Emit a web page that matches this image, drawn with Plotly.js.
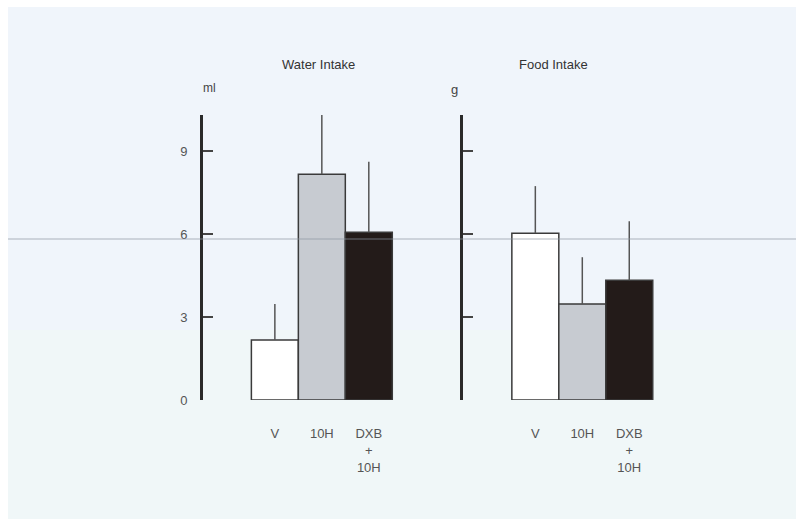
<!DOCTYPE html>
<html>
<head>
<meta charset="utf-8">
<script src="https://cdn.plot.ly/plotly-3.0.1.min.js"></script>
<style>html,body{margin:0;padding:0;background:#fff;}#chart{width:796px;height:519px;}</style>
</head>
<body>
<div id="chart"></div>
<script>
// ---- data ----
const categories = ['V', '10H', 'DXB<br>+<br>10H'];
const waterMean = [2.17, 8.16, 6.06];
const waterSD = [1.30, 2.55, 2.55];
const foodMean = [6.03, 3.47, 4.33];
const foodSD = [1.70, 1.69, 2.13];
const yTickVals = [0, 3, 6, 9];
const waterTickText = ['0', '3', '6', '9'];
const panelTitles = ['Water Intake', 'Food Intake'];
const unitLabels = ['ml', 'g'];

// ---- styles ----
const barColors = ['#ffffff', '#c7cbd1', '#231b19'];
const font = 'Liberation Sans, Arial, sans-serif';

function barTrace(mean, sd, xa, ya) {
  return {
    type: 'bar', x: categories, y: mean, xaxis: xa, yaxis: ya,
    width: 1,
    marker: {color: barColors, line: {color: '#3a3a3a', width: 1.5}},
    error_y: {type: 'data', symmetric: false, array: sd, arrayminus: sd.map(() => 0),
              color: '#555', thickness: 1.5, width: 0},
    hoverinfo: 'skip', showlegend: false
  };
}

const data = [
  barTrace(waterMean, waterSD, 'x', 'y'),
  barTrace(foodMean, foodSD, 'x2', 'y2')
];

const yDomain = [(519 - 400) / 519, (519 - 115) / 519];
const yRange = [0, 10.3];

function xAxis(domain, range) {
  return {domain: domain, range: range, showline: false, showgrid: false, zeroline: false,
          ticks: '', ticklabelstandoff: 24, fixedrange: true,
          tickfont: {family: font, size: 13, color: '#555'}};
}
function yAxis(anchor, showLabels) {
  return {domain: yDomain, range: yRange, anchor: anchor, showline: true, linewidth: 3, linecolor: '#2a2a2a',
          showgrid: false, zeroline: false, ticks: 'inside', ticklen: 10, tickwidth: 1.5, tickcolor: '#444',
          tickvals: yTickVals, ticktext: waterTickText, showticklabels: showLabels,
          ticklabelstandoff: 10, tickfont: {family: font, size: 13, color: '#555'}};
}

function label(text, px, py, size, color) {
  return {text: text, xref: 'paper', yref: 'paper', x: px / 796, y: (519 - py) / 519,
          xanchor: 'center', yanchor: 'middle', showarrow: false,
          font: {family: font, size: size, color: color}};
}

const layout = {
  width: 796, height: 519,
  margin: {l: 0, r: 0, t: 0, b: 0},
  paper_bgcolor: '#ffffff', plot_bgcolor: 'rgba(0,0,0,0)',
  bargap: 0,
  xaxis: xAxis([203 / 796, 420 / 796], [-1.53, 3.09]),
  yaxis: yAxis('x', true),
  xaxis2: xAxis([463 / 796, 680 / 796], [-1.54, 3.08]),
  yaxis2: yAxis('x2', false),
  shapes: [
    {type: 'rect', xref: 'paper', yref: 'paper', x0: 8 / 796, x1: 1, y0: 0, y1: 1 - 7 / 519,
     fillcolor: '#f0f5fb', line: {width: 0}, layer: 'below'},
    {type: 'rect', xref: 'paper', yref: 'paper', x0: 8 / 796, x1: 1, y0: 0, y1: (519 - 330) / 519,
     fillcolor: '#f0f7f8', line: {width: 0}, layer: 'below'},
    {type: 'line', xref: 'paper', yref: 'paper', x0: 8 / 796, x1: 1, y0: (519 - 239) / 519, y1: (519 - 239) / 519,
     line: {color: 'rgba(140,150,160,0.35)', width: 2}, layer: 'above'}
  ],
  annotations: [
    label(panelTitles[0], 318, 64, 13, '#333'),
    label(panelTitles[1], 553, 64, 13, '#333'),
    label(unitLabels[0], 210, 88, 12, '#444'),
    label(unitLabels[1], 454, 89, 13, '#444')
  ]
};

Plotly.newPlot('chart', data, layout, {staticPlot: true, displayModeBar: false});
</script>
</body>
</html>
